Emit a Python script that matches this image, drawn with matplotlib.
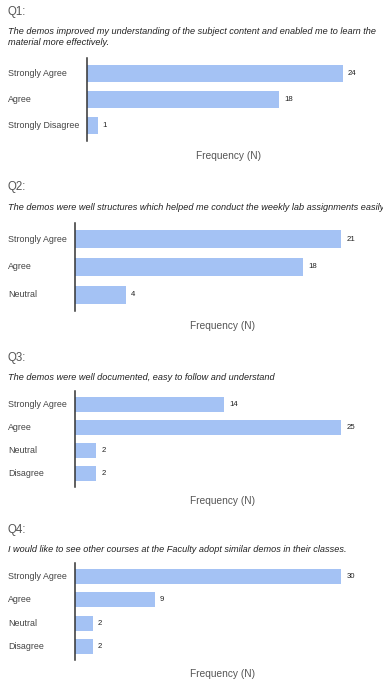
import matplotlib.pyplot as plt
from matplotlib.transforms import blended_transform_factory

plt.rcParams['font.family'] = ['Liberation Sans', 'DejaVu Sans']

W, H = 383, 679
BAR = '#a4c2f4'

q1_labels = ['Strongly Agree', 'Agree', 'Strongly Disagree']
q1_values = [24, 18, 1]
q2_labels = ['Strongly Agree', 'Agree', 'Neutral']
q2_values = [21, 18, 4]
q3_labels = ['Strongly Agree', 'Agree', 'Neutral', 'Disagree']
q3_values = [14, 25, 2, 2]
q4_labels = ['Strongly Agree', 'Agree', 'Neutral', 'Disagree']
q4_values = [30, 9, 2, 2]

titles = ['Q1:', 'Q2:', 'Q3:', 'Q4:']
questions = [
    'The demos improved my understanding of the subject content and enabled me to learn the\nmaterial more effectively.',
    'The demos were well structures which helped me conduct the weekly lab assignments easily',
    'The demos were well documented, easy to follow and understand',
    'I would like to see other courses at the Faculty adopt similar demos in their classes.',
]

# pixel layout of each block: title y, question y, axes left/right/top/bottom, xlabel x/y
layout = [
    dict(ty=12, qy=37, l=87, r=343, t=58, b=141, fx=228, fy=156),
    dict(ty=187, qy=208, l=75, r=341, t=223, b=311, fx=222, fy=326),
    dict(ty=358, qy=377, l=75, r=341, t=391, b=487, fx=222, fy=501),
    dict(ty=530, qy=550, l=75, r=341, t=563, b=660, fx=222, fy=674),
]

data = [(q1_labels, q1_values), (q2_labels, q2_values),
        (q3_labels, q3_values), (q4_labels, q4_values)]

fig = plt.figure(figsize=(W / 100, H / 100), dpi=100)


def fx(x):
    return x / W


def fy(y):
    return 1 - y / H


for (labels, values), title, q, lay in zip(data, titles, questions, layout):
    fig.text(fx(8), fy(lay['ty']), title, fontsize=8.3, color='#555555', va='center')
    fig.text(fx(8), fy(lay['qy']), q, fontsize=6.6, style='italic', color='#222222',
             va='center', linespacing=1.25)

    ax = fig.add_axes([fx(lay['l']), fy(lay['b']), (lay['r'] - lay['l']) / W,
                       (lay['b'] - lay['t']) / H])
    n = len(labels)
    pos = list(range(n))
    ax.barh(pos, values, height=0.64, color=BAR)
    ax.set_xlim(0, max(values))
    ax.set_ylim(n - 1 + 0.58, -0.58)
    for p, v in zip(pos, values):
        ax.text(v + max(values) * 0.02, p, str(v), fontsize=5.6, color='#222222',
                va='center', ha='left', clip_on=False)
    tr = blended_transform_factory(fig.transFigure, ax.transData)
    for p, lab in zip(pos, labels):
        ax.text(fx(8), p, lab, transform=tr, fontsize=6.4, color='#444444',
                va='center', ha='left')
    for s in ['top', 'right', 'bottom']:
        ax.spines[s].set_visible(False)
    ax.spines['left'].set_color('#333333')
    ax.spines['left'].set_linewidth(1.1)
    ax.set_xticks([])
    ax.set_yticks([])
    ax.patch.set_alpha(0)

    fig.text(fx(lay['fx']), fy(lay['fy']), 'Frequency (N)', fontsize=7.3,
             color='#555555', ha='center', va='center')

fig.savefig('out.png', dpi=100)
